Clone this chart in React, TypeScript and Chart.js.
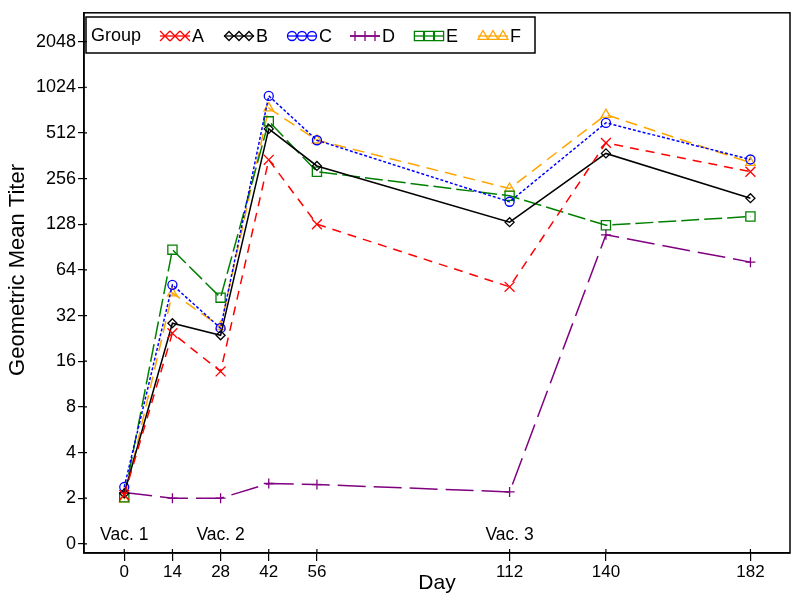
import React, { useEffect, useRef } from "react";
import { Chart, registerables } from "chart.js";

Chart.register(...registerables);

const days = [0, 14, 28, 42, 56, 112, 140, 182];
const groupNames = ["A", "B", "C", "D", "E", "F"];
const seriesA = [2.1, 24.5, 13.7, 340, 128, 49.5, 440, 284];
const seriesB = [2.15, 28.5, 23.7, 544, 310, 132, 375, 190];
const seriesC = [2.37, 51, 26.4, 898, 458, 180, 596, 342];
const seriesD = [2.18, 2.0, 2.0, 2.5, 2.46, 2.2, 109, 72];
const seriesE = [2.03, 87, 42, 610, 284, 197, 126, 144];
const seriesF = [1.97, 45, 27, 745, 458, 220, 675, 326];
const yTickValues = [0, 1, 2, 3, 4, 5, 6, 7, 8, 9, 10, 11];
const yTickLabels = ["0", "2", "4", "8", "16", "32", "64", "128", "256", "512", "1024", "2048"];
const vacDays = [0, 28, 112];
const vacLabels = ["Vac. 1", "Vac. 2", "Vac. 3"];

const FONT = "'Liberation Sans', Arial, sans-serif";

const styles = [
  { color: "#FF0000", dash: [9, 7], point: "crossRot", radius: 7 },
  { color: "#000000", dash: [], point: "rectRot", radius: 4.5 },
  { color: "#0000FF", dash: [3, 2], point: "circle", radius: 4.5 },
  { color: "#800080", dash: [28, 8], point: "cross", radius: 5 },
  { color: "#008000", dash: [18, 5], point: "rect", radius: 6.5 },
  { color: "#FFA500", dash: [12, 7], point: "triangle", radius: 5.5 },
];

const allSeries = [seriesA, seriesB, seriesC, seriesD, seriesE, seriesF];

function drawMarker(ctx: CanvasRenderingContext2D, style: string, x: number, y: number, r: number) {
  ctx.beginPath();
  if (style === "crossRot") {
    const d = r * Math.SQRT1_2;
    ctx.moveTo(x - d, y - d); ctx.lineTo(x + d, y + d);
    ctx.moveTo(x + d, y - d); ctx.lineTo(x - d, y + d);
  } else if (style === "cross") {
    ctx.moveTo(x - r, y); ctx.lineTo(x + r, y);
    ctx.moveTo(x, y - r); ctx.lineTo(x, y + r);
  } else if (style === "rectRot") {
    ctx.moveTo(x, y - r); ctx.lineTo(x + r, y); ctx.lineTo(x, y + r); ctx.lineTo(x - r, y); ctx.closePath();
  } else if (style === "circle") {
    ctx.arc(x, y, r, 0, Math.PI * 2);
  } else if (style === "rect") {
    const s = r * Math.SQRT1_2;
    ctx.rect(x - s, y - s, 2 * s, 2 * s);
  } else if (style === "triangle") {
    ctx.moveTo(x, y - r); ctx.lineTo(x + r * 0.9, y + r * 0.6); ctx.lineTo(x - r * 0.9, y + r * 0.6); ctx.closePath();
  }
  ctx.stroke();
}

const decorPlugin = {
  id: "decor",
  afterDraw(chart: any) {
    const { ctx, chartArea, scales } = chart;
    const xs = scales.x;
    const ys = scales.y;
    ctx.save();
    // plot frame
    ctx.strokeStyle = "#000";
    ctx.lineWidth = 1.5;
    ctx.strokeRect(chartArea.left, chartArea.top, chartArea.right - chartArea.left, chartArea.bottom - chartArea.top);
    // inward tick parts
    ctx.lineWidth = 1.2;
    ctx.beginPath();
    xs.ticks.forEach((t: any) => {
      const px = xs.getPixelForValue(t.value);
      ctx.moveTo(px, chartArea.bottom);
      ctx.lineTo(px, chartArea.bottom - 4);
    });
    ys.ticks.forEach((t: any) => {
      const py = ys.getPixelForValue(t.value);
      ctx.moveTo(chartArea.left, py);
      ctx.lineTo(chartArea.left + 3, py);
    });
    ctx.stroke();

    // vaccination labels
    ctx.fillStyle = "#000";
    ctx.font = `17.5px ${FONT}`;
    ctx.textAlign = "center";
    ctx.textBaseline = "middle";
    vacDays.forEach((d, i) => {
      ctx.fillText(vacLabels[i], xs.getPixelForValue(d), ys.getPixelForValue(0.18));
    });

    // y title
    ctx.save();
    ctx.translate(18, 270);
    ctx.rotate(-Math.PI / 2);
    ctx.font = `22px ${FONT}`;
    ctx.textAlign = "center";
    ctx.textBaseline = "middle";
    ctx.fillText("Geometric Mean Titer", 0, 0);
    ctx.restore();

    // legend
    ctx.lineWidth = 1.5;
    ctx.strokeStyle = "#000";
    ctx.strokeRect(86, 17, 449, 36);
    ctx.font = `18px ${FONT}`;
    ctx.textAlign = "left";
    ctx.textBaseline = "middle";
    ctx.fillStyle = "#000";
    const ly = 36;
    ctx.fillText("Group", 91, ly);
    const starts = [160, 224, 287, 350, 414, 478];
    groupNames.forEach((name, i) => {
      const st = styles[i];
      const x0 = starts[i];
      ctx.strokeStyle = st.color;
      ctx.lineWidth = 1.3;
      ctx.setLineDash([]);
      ctx.beginPath();
      ctx.moveTo(x0, ly);
      ctx.lineTo(x0 + 30, ly);
      ctx.stroke();
      [5, 15, 25].forEach((o) => drawMarker(ctx, st.point, x0 + o, ly, st.radius));
      ctx.fillStyle = "#000";
      ctx.fillText(name, x0 + 32, ly + 1);
    });
    ctx.restore();
  },
};

export default function App() {
  const ref = useRef<HTMLCanvasElement>(null);
  useEffect(() => {
    document.body.style.margin = "0";
    if (!ref.current) return;
    const datasets = groupNames.map((name, i) => ({
      label: name,
      data: days.map((d, j) => ({ x: d, y: Math.log2(allSeries[i][j]) })),
      borderColor: styles[i].color,
      backgroundColor: "rgba(0,0,0,0)",
      borderWidth: 1.5,
      borderDash: styles[i].dash,
      pointStyle: styles[i].point as any,
      pointRadius: styles[i].radius,
      pointBorderWidth: 1.3,
      pointBorderColor: styles[i].color,
      pointBackgroundColor: "rgba(0,0,0,0)",
      tension: 0,
      fill: false,
    }));
    const chart = new Chart(ref.current, {
      type: "line",
      data: { datasets },
      options: {
        animation: false,
        responsive: false,
        devicePixelRatio: 1,
        layout: { padding: { top: 9, right: 10, left: 0, bottom: 0 } },
        plugins: { legend: { display: false }, tooltip: { enabled: false } },
        scales: {
          x: {
            type: "linear",
            min: -11.7,
            max: 193.5,
            afterBuildTicks: (s: any) => {
              s.ticks = days.map((v) => ({ value: v }));
            },
            afterFit: (s: any) => {
              s.height = 48;
            },
            ticks: {
              autoSkip: false,
              maxRotation: 0,
              padding: 1,
              color: "#000",
              font: { family: FONT, size: 17 },
              callback: (v: any) => String(v),
            },
            grid: { drawOnChartArea: false, drawTicks: true, tickLength: 8, color: "#000", lineWidth: 1.2 },
            border: { display: true, color: "#000", width: 1.5 },
            title: {
              display: true,
              text: "Day",
              color: "#000",
              font: { family: FONT, size: 21 },
              padding: { top: 0, bottom: 5 },
            },
          },
          y: {
            type: "linear",
            min: -0.2,
            max: 11.63,
            afterBuildTicks: (s: any) => {
              s.ticks = yTickValues.map((v) => ({ value: v }));
            },
            afterFit: (s: any) => {
              s.width = 84;
            },
            ticks: {
              autoSkip: false,
              padding: 2,
              color: "#000",
              font: { family: FONT, size: 18 },
              callback: (v: any) => {
                const idx = yTickValues.indexOf(Number(v));
                return idx >= 0 ? yTickLabels[idx] : "";
              },
            },
            grid: { drawOnChartArea: false, drawTicks: true, tickLength: 6, color: "#000", lineWidth: 1.2 },
            border: { display: true, color: "#000", width: 1.5 },
          },
        },
      },
      plugins: [decorPlugin],
    });
    return () => chart.destroy();
  }, []);
  return (
    <div style={{ width: 800, height: 601 }}>
      <canvas ref={ref} width={800} height={601} style={{ display: "block" }} />
    </div>
  );
}
